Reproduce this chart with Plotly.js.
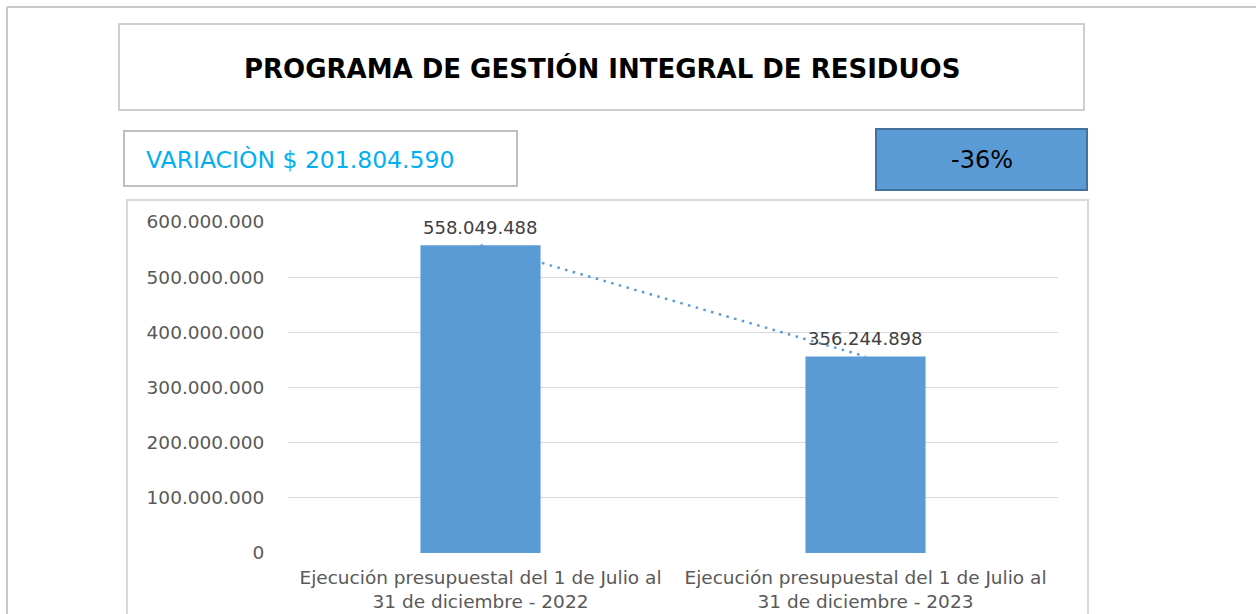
<!DOCTYPE html>
<html>
<head>
<meta charset="utf-8">
<script src="https://cdn.plot.ly/plotly-3.0.1.min.js"></script>
<style>html,body{margin:0;padding:0;background:#fff;}#chart{width:1256px;height:614px;}</style>
</head>
<body>
<div id="chart"></div>
<script>
// Data
const categories = [
  "Ejecución presupuestal del 1 de Julio al<br>31 de diciembre - 2022",
  "Ejecución presupuestal del 1 de Julio al<br>31 de diciembre - 2023"
];
const values = [558049488, 356244898];
const valueLabels = ["558.049.488", "356.244.898"];
const titleText = "PROGRAMA DE GESTIÓN INTEGRAL DE RESIDUOS";
const variationText = "VARIACIÒN $ 201.804.590";
const percentText = "-36%";
const yTicks = [0, 100000000, 200000000, 300000000, 400000000, 500000000, 600000000];

// Pixel -> paper helpers (plot area: x 288..1058, y 222..553)
const L = 288, R = 1058, T = 222, B = 553;
const px = x => (x - L) / (R - L);
const py = y => (B - y) / (B - T);
function rect(x0, y0, x1, y1, line, fill, lw) {
  return {type: 'rect', xref: 'paper', yref: 'paper', x0: px(x0), x1: px(x1), y0: py(y1), y1: py(y0),
    line: {color: line, width: lw || 1.5}, fillcolor: fill || 'rgba(0,0,0,0)', layer: 'below'};
}
function line(x0, y0, x1, y1, color, lw) {
  return {type: 'line', xref: 'paper', yref: 'paper', x0: px(x0), x1: px(x1), y0: py(y0), y1: py(y1),
    line: {color: color, width: lw || 2}, layer: 'below'};
}

const blue = '#5B9BD5';
const font = 'DejaVu Sans, Verdana, sans-serif';

const traces = [
  {
    type: 'bar', x: categories, y: values, width: 0.312,
    marker: {color: blue, line: {width: 0}}, hoverinfo: 'skip', showlegend: false
  },
  {
    type: 'scatter', mode: 'lines', x: categories, y: values,
    line: {color: blue, width: 2.5, dash: '2.5px,5.5px'}, hoverinfo: 'skip', showlegend: false
  }
];

const annotations = [
  {xref: 'paper', yref: 'paper', x: px(602), y: py(68), text: '<b>' + titleText + '</b>', showarrow: false,
   font: {family: 'DejaVu Sans, Arial, sans-serif', size: 26, color: '#000'}, xanchor: 'center', yanchor: 'middle'},
  {xref: 'paper', yref: 'paper', x: px(144), y: py(160), text: variationText, showarrow: false,
   font: {family: font, size: 23.5, color: '#00B0F0'}, xanchor: 'left', yanchor: 'middle'},
  {xref: 'paper', yref: 'paper', x: px(982), y: py(160), text: percentText, showarrow: false,
   font: {family: font, size: 24, color: '#000'}, xanchor: 'center', yanchor: 'middle'}
];
categories.forEach((c, i) => {
  annotations.push({x: c, y: values[i], xref: 'x', yref: 'y', text: valueLabels[i], showarrow: false,
    yanchor: 'bottom', yshift: 5, font: {family: font, size: 18, color: '#404040'}});
});

const layout = {
  width: 1256, height: 614,
  margin: {l: L, r: 1256 - R, t: T, b: 614 - B, pad: 0},
  paper_bgcolor: '#fff', plot_bgcolor: '#fff',
  separators: ',.',
  showlegend: false,
  xaxis: {
    type: 'category', showgrid: false, zeroline: false, showline: false,
    ticks: 'outside', ticklen: 8, tickcolor: 'rgba(0,0,0,0)',
    tickfont: {family: font, size: 18.5, color: '#595959'}, fixedrange: true
  },
  yaxis: {
    range: [0, 600000000], tickvals: yTicks, tickformat: ',d',
    showgrid: true, gridcolor: '#d9d9d9', gridwidth: 1, zeroline: false, showline: false,
    ticks: 'outside', ticklen: 19, tickcolor: 'rgba(0,0,0,0)',
    tickfont: {family: font, size: 18.5, color: '#595959'}, fixedrange: true
  },
  shapes: [
    line(7, 7, 1256, 7, '#c8c8c8', 2),
    line(7, 7, 7, 614, '#c8c8c8', 2),
    rect(119, 24, 1084, 110, '#bfbfbf', null, 1.5),
    rect(124, 131, 517, 186, '#bfbfbf', null, 2),
    rect(876, 129, 1087, 190, '#41719C', blue, 2),
    rect(127, 200, 1088, 625, '#d9d9d9', null, 2)
  ],
  annotations: annotations
};

Plotly.newPlot('chart', traces, layout, {displayModeBar: false, staticPlot: true});
</script>
</body>
</html>
